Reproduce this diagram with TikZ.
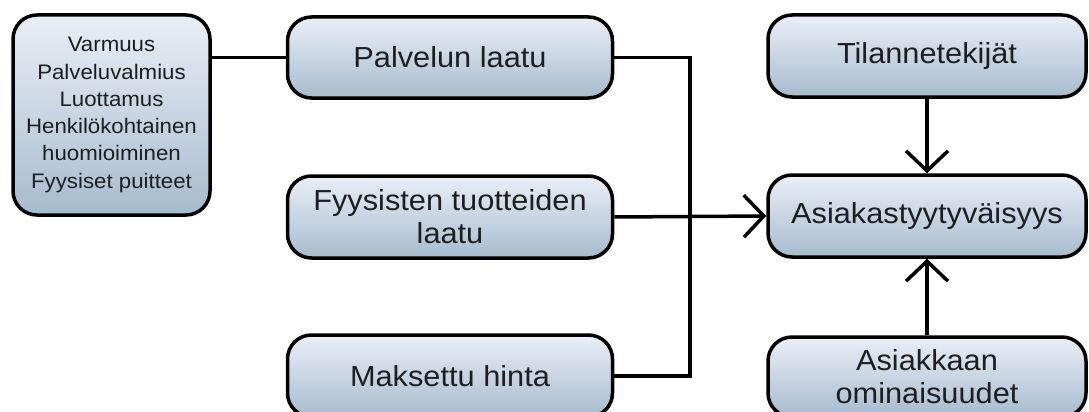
\documentclass[tikz,border=0pt]{standalone}
\usepackage{fontspec}
\setmainfont{Liberation Sans}[FakeStretch=1.06]
\usetikzlibrary{arrows.meta}
\definecolor{boxtop}{RGB}{234,238,246}
\definecolor{boxbot}{RGB}{166,187,206}
\definecolor{txt}{RGB}{30,30,30}
\tikzset{
  box/.style={draw=black, line width=3.5pt, rounded corners=24pt,
    top color=boxtop, bottom color=boxbot, text=txt, align=center,
    inner sep=0pt, font=\fontsize{29}{33}\selectfont},
  conn/.style={line width=3.5pt, draw=black},
  arr/.style={conn, -{Straight Barb[length=20pt,width=42pt]}}
}
\begin{document}
\begin{tikzpicture}[x=1pt,y=-1pt]
\clip (0,0) rectangle (1089,412);
\fill[white] (0,0) rectangle (1089,412);
\node[box, minimum width=197pt, minimum height=200pt,
  font=\fontsize{21}{27.3}\selectfont] (L) at (111.5,115)
  {Varmuus\\Palveluvalmius\\Luottamus\\Henkilökohtainen\\huomioiminen\\Fyysiset puitteet};
\node[box, minimum width=325pt, minimum height=81pt] (PL) at (450,57.5) {Palvelun laatu};
\node[box, minimum width=325pt, minimum height=82pt] (FY) at (450,217) {Fyysisten tuotteiden\\laatu};
\node[box, minimum width=325pt, minimum height=82pt] (MH) at (450,376) {Maksettu hinta};
\node[box, minimum width=318pt, minimum height=82pt] (TI) at (927,56) {Tilannetekijät};
\node[box, minimum width=318pt, minimum height=82pt] (AS) at (927,216) {Asiakastyytyväisyys};
\node[box, minimum width=318pt, minimum height=80pt] (AO) at (927,377) {Asiakkaan\\ominaisuudet};
\coordinate (J) at (690,217);
\draw[conn] (PL.west) -- (PL.west -| L.east);
\draw[conn] (PL.east) -| (J) |- (MH.east);
\draw[arr] (FY.east) -- (AS.west);
\draw[arr] (TI.south) -- (AS.north);
\draw[arr] (AO.north) -- (AS.south);
\end{tikzpicture}
\end{document}
